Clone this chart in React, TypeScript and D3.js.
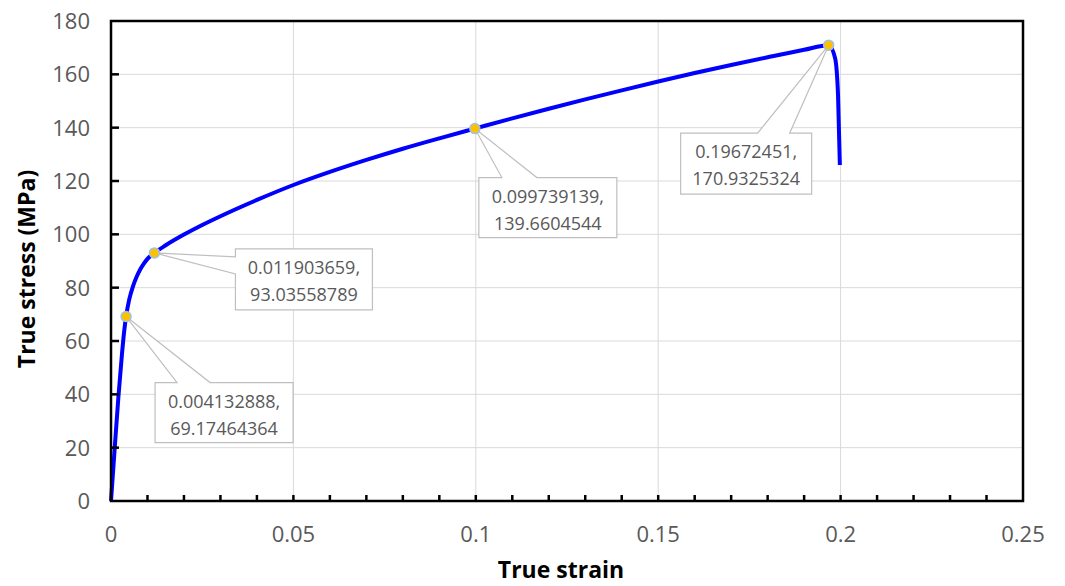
import React from "react";
import * as d3 from "d3";

// curve (true strain, true stress MPa)
const strainValues = [
  0, 0.001, 0.002, 0.003, 0.0036, 0.004132888, 0.005, 0.006, 0.007, 0.008, 0.009, 0.01,
  0.011903659, 0.015, 0.02, 0.025, 0.03, 0.04, 0.05, 0.06, 0.07, 0.08, 0.09,
  0.099739139, 0.11, 0.12, 0.13, 0.14, 0.15, 0.16, 0.17, 0.18, 0.19,
  0.19672451, 0.1985, 0.1993, 0.1998,
];
const stressValues = [
  0, 19.5, 38.5, 55, 63.5, 69.17464364, 75.6, 80.4, 84.0, 86.8, 89.0, 90.8,
  93.03558789, 95.9, 99.9, 103.5, 106.8, 112.9, 118.5, 123.4, 127.9, 132.1, 136.0,
  139.6604544, 143.5, 147.1, 150.6, 154.0, 157.3, 160.5, 163.5, 166.4, 169.2,
  170.9325324, 166, 152, 126,
];

// labelled points
const markedStrain = [0.004132888, 0.011903659, 0.099739139, 0.19672451];
const markedStress = [69.17464364, 93.03558789, 139.6604544, 170.9325324];
const markedLabels = [
  ["0.004132888,", "69.17464364"],
  ["0.011903659,", "93.03558789"],
  ["0.099739139,", "139.6604544"],
  ["0.19672451,", "170.9325324"],
];

const xTicks = [0, 0.05, 0.1, 0.15, 0.2, 0.25];
const xMinorTicks = d3.range(0, 26).map(i => i / 100);
const yTicks = [0, 20, 40, 60, 80, 100, 120, 140, 160, 180];

// callout box placement relative to its point (px): dx, dy, w, h, side, wedge a, wedge b
const callouts = [
  { dx: 29, dy: 66, w: 138, h: 60, side: "top", a: 22, b: 55 },
  { dx: 81, dy: -4, w: 137, h: 61, side: "left", a: 8, b: 25 },
  { dx: 4, dy: 49, w: 138, h: 60, side: "top", a: 23, b: 58 },
  { dx: -148, dy: 88, w: 131, h: 61, side: "top", a: 77, b: 109 },
];

const W = 1065;
const H = 586;
const M = { left: 111, right: 42, top: 21, bottom: 85 };
const FONT = "'Open Sans', 'Noto Sans', sans-serif";

export default function App() {
  const x = d3.scaleLinear().domain([0, 0.25]).range([M.left, W - M.right]);
  const y = d3.scaleLinear().domain([0, 180]).range([H - M.bottom, M.top]);

  const pts: [number, number][] = strainValues.map((s, i) => [s, stressValues[i]]);
  const line = d3
    .line<[number, number]>()
    .x(d => x(d[0]))
    .y(d => y(d[1]))
    .curve(d3.curveMonotoneX);

  const x0 = x(0), x1 = x(0.25), y0 = y(0), y1 = y(180);

  function calloutPath(px: number, py: number, c: typeof callouts[number]) {
    const l = px + c.dx, t = py + c.dy, r = l + c.w, b = t + c.h;
    if (c.side === "top") {
      return `M${l},${t}L${l + c.a},${t}L${px},${py}L${l + c.b},${t}L${r},${t}L${r},${b}L${l},${b}Z`;
    }
    return `M${l},${t}L${r},${t}L${r},${b}L${l},${b}L${l},${t + c.b}L${px},${py}L${l},${t + c.a}Z`;
  }

  return (
    <svg
      width={W}
      height={H}
      style={{ position: "absolute", left: 0, top: 0, background: "#fff", fontFamily: FONT }}
    >
      {/* gridlines */}
      {xTicks.slice(1, -1).map(t => (
        <line key={"gx" + t} x1={x(t)} x2={x(t)} y1={y0} y2={y1} stroke="#d9d9d9" strokeWidth={1} />
      ))}
      {yTicks.slice(1, -1).map(t => (
        <line key={"gy" + t} x1={x0} x2={x1} y1={y(t)} y2={y(t)} stroke="#d9d9d9" strokeWidth={1} />
      ))}

      {/* callouts */}
      {markedStrain.map((s, i) => {
        const px = x(s), py = y(markedStress[i]);
        const c = callouts[i];
        const l = px + c.dx, t = py + c.dy;
        return (
          <g key={"c" + i}>
            <path d={calloutPath(px, py, c)} fill="#fff" stroke="#bfbfbf" strokeWidth={1.2} />
            {markedLabels[i].map((txt, j) => (
              <text
                key={j}
                x={l + c.w / 2}
                y={t + 25 + j * 27}
                textAnchor="middle"
                fontSize={18}
                fill="#595959"
              >
                {txt}
              </text>
            ))}
          </g>
        );
      })}

      {/* curve */}
      <path d={line(pts) || ""} fill="none" stroke="#0000ff" strokeWidth={4} strokeLinejoin="round" />

      {/* markers */}
      {markedStrain.map((s, i) => (
        <circle key={"m" + i} cx={x(s)} cy={y(markedStress[i])} r={5} fill="#ffc000" stroke="#9dc3e6" strokeWidth={1.5} />
      ))}

      {/* frame */}
      <rect x={x0} y={y1} width={x1 - x0} height={y0 - y1} fill="none" stroke="#000" strokeWidth={2.5} />

      {/* y ticks (inside) */}
      {yTicks.slice(1, -1).map(t => (
        <line key={"ty" + t} x1={x0} x2={x0 + 8} y1={y(t)} y2={y(t)} stroke="#000" strokeWidth={2.5} />
      ))}
      {/* x minor ticks (inside) */}
      {xMinorTicks.slice(1, -1).map(t => (
        <line key={"tx" + t} x1={x(t)} x2={x(t)} y1={y0} y2={y0 - 6} stroke="#000" strokeWidth={2.5} />
      ))}

      {/* tick labels */}
      {yTicks.map(t => (
        <text key={"ly" + t} x={x0 - 21} y={y(t) + 8} textAnchor="end" fontSize={22} fill="#595959">
          {t}
        </text>
      ))}
      {xTicks.map(t => (
        <text key={"lx" + t} x={x(t)} y={y0 + 41} textAnchor="middle" fontSize={22} fill="#595959">
          {t}
        </text>
      ))}

      {/* axis titles */}
      <text x={561} y={578} textAnchor="middle" fontSize={23} fontWeight="bold" fill="#000">
        True strain
      </text>
      <text
        transform={`translate(35,${(y0 + y1) / 2 + 8}) rotate(-90)`}
        textAnchor="middle"
        fontSize={23}
        fontWeight="bold"
        fill="#000"
      >
        True stress (MPa)
      </text>
    </svg>
  );
}
